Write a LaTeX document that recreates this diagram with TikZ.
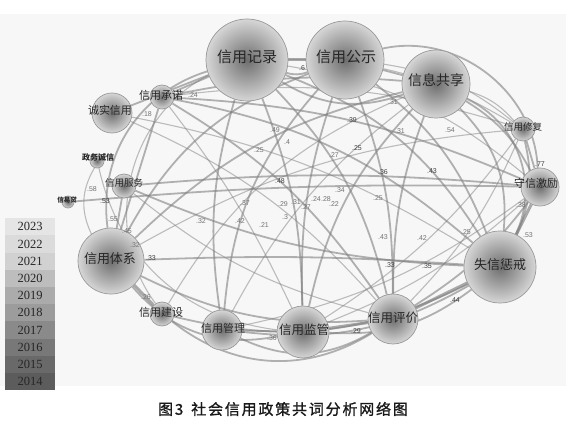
\documentclass[tikz,border=0pt]{standalone}
\usepackage{fontspec}
\setmainfont{Liberation Serif}
\newfontfamily\cjk{Noto Sans CJK SC}
\newfontfamily\capcjk[LetterSpace=12,FakeBold=1.2]{Noto Sans CJK SC}
\newfontfamily\numf{Liberation Sans}
\pgfdeclarelayer{bgl}
\pgfdeclarelayer{edl}
\pgfsetlayers{bgl,edl,main}
\tikzset{
  bub/.style={circle, draw=black!40, line width=0.7pt, inner sep=0pt,
    shading=radial, inner color=black!57, outer color=black!16},
  word/.style={inner sep=0pt, text=black!85},
  ed/.style={draw=black!50, line width=1.8pt, opacity=0.6},
  edt/.style={ed, line width=3pt, opacity=0.65},
  edn/.style={ed, line width=1.1pt, opacity=0.5},
  wt/.style={inner sep=0pt, text=black!55, font=\numf\fontsize{7}{7}\selectfont},
  wtb/.style={wt, text=black!75},
  yr/.style={draw=none, minimum width=50pt, minimum height=17.2pt, inner sep=0pt,
    anchor=north west, font=\fontsize{12.5}{12.5}\selectfont, text=black!85},
}
\newcommand{\fs}[1]{\fontsize{#1}{#1}\selectfont}
\begin{document}
\begin{tikzpicture}[x=1pt,y=-1pt]
\useasboundingbox (0,0) rectangle (582,428);
\begin{pgfonlayer}{bgl}
  \fill[black!3] (0,14) rectangle (566,386);
\end{pgfonlayer}
% bubbles
\node[bub, minimum size=82pt] (rec) at (247,60) {};
\node[bub, minimum size=78pt] (pub) at (345,60) {};
\node[bub, minimum size=68pt] (shr) at (436,84) {};
\node[bub, minimum size=40pt] (cx) at (112,113) {};
\node[bub, minimum size=24pt] (cn) at (162,97) {};
\node[bub, minimum size=14pt] (zw) at (97,161) {};
\node[bub, minimum size=24pt] (fw) at (124,186) {};
\node[bub, minimum size=12pt] (xyd) at (68,202) {};
\node[bub, minimum size=66pt] (tx) at (111,261) {};
\node[bub, minimum size=24pt] (js) at (162,314) {};
\node[bub, minimum size=40pt] (gl) at (222,330) {};
\node[bub, minimum size=52pt] (jg) at (303,332) {};
\node[bub, minimum size=50pt] (pj) at (393,319) {};
\node[bub, minimum size=72pt] (sx) at (500,267) {};
\node[bub, minimum size=38pt] (sxjl) at (540,187) {};
\node[bub, minimum size=24pt] (xf) at (523,129) {};
% words
\node[word, font=\cjk\fs{15}] (rec-t) at (247,57) {信用记录};
\node[word, font=\cjk\fs{15}] (pub-t) at (346,57) {信用公示};
\node[word, font=\cjk\fs{14}] (shr-t) at (436,80) {信息共享};
\node[word, font=\cjk\fs{11}] (cx-t) at (110,110) {诚实信用};
\node[word, font=\cjk\fs{11}] (cn-t) at (161,95) {信用承诺};
\node[word, font=\cjk\bfseries\fs{8}] (zw-t) at (98,157) {政务诚信};
\node[word, font=\cjk\fs{9.5}] (fw-t) at (124,183) {信用服务};
\node[word, font=\cjk\bfseries\fs{6.5}] (xyd-t) at (67,200) {信易贷};
\node[word, font=\cjk\fs{13}] (tx-t) at (110,259) {信用体系};
\node[word, font=\cjk\fs{11}] (js-t) at (161,312) {信用建设};
\node[word, font=\cjk\fs{11}] (gl-t) at (223,328) {信用管理};
\node[word, font=\cjk\fs{12.5}] (jg-t) at (304,330) {信用监管};
\node[word, font=\cjk\fs{12.5}] (pj-t) at (393,318) {信用评价};
\node[word, font=\cjk\fs{13}] (sx-t) at (500,265) {失信惩戒};
\node[word, font=\cjk\fs{11}] (sxjl-t) at (536,183) {守信激励};
\node[word, font=\cjk\fs{9.5}] (xf-t) at (523,127) {信用修复};
% edges
\begin{pgfonlayer}{edl}
\draw[edt] (rec) -- (pub);
\draw[ed] (rec) to[bend right=18] (pub);
\draw[ed] (rec) to[bend right=25] (shr);
\draw[ed] (pub) -- (shr);
\draw[ed] (rec) to[bend right=40] (tx);
\draw[edn] (rec) to[bend right=50] (js);
\draw[ed] (cx) -- (rec);
\draw[ed] (cn) -- (rec);
\draw[ed] (cn) to[bend left=8] (shr);
\draw[edn] (cn) to[bend left=12] (xf);
\draw[ed] (cn) to[bend left=10] (sxjl);
\draw[ed] (cn) to[bend left=15] (sx);
\draw[ed] (cn) to[bend left=12] (pj);
\draw[edn] (cn) to[bend left=6] (jg);
\draw[edn] (cx) to[bend left=10] (sx);
\draw[edn] (cx) to[bend left=12] (pj);
\draw[ed] (rec) to[bend left=10] (jg);
\draw[ed] (rec) to[bend left=15] (pj);
\draw[ed] (rec) to[bend right=12] (gl);
\draw[ed] (rec) to[bend left=18] (sx);
\draw[edn] (rec) to[bend left=15] (sxjl);
\draw[edn] (rec) to[bend left=15] (xf);
\draw[ed] (pub) to[bend right=10] (jg);
\draw[ed] (pub) to[bend left=10] (pj);
\draw[ed] (pub) to[bend right=18] (gl);
\draw[ed] (pub) to[bend left=15] (sx);
\draw[ed] (pub) to[bend right=20] (tx);
\draw[edn] (pub) to[bend left=15] (xf);
\draw[ed] (pub) to[bend left=50] (sxjl);
\draw[ed] (shr) to[bend left=25] (sx);
\draw[ed] (shr) to[bend left=45] (sx);
\draw[ed] (shr) to[bend right=10] (pj);
\draw[ed] (shr) to[bend right=15] (jg);
\draw[ed] (shr) to[bend right=15] (tx);
\draw[edn] (shr) to[bend right=12] (gl);
\draw[edn] (shr) to[bend right=18] (js);
\draw[ed] (shr) to[bend left=15] (sxjl);
\draw[edn] (shr) to[bend left=15] (xf);
\draw[ed] (fw) to[bend left=5] (sxjl);
\draw[ed] (fw) to[bend right=10] (sx);
\draw[edn] (fw) to[bend right=12] (pj);
\draw[ed] (fw) -- (tx);
\draw[ed] (xyd) to[bend left=3] (sxjl);
\draw[edn] (zw) to[bend right=28] (tx);
\draw[edn] (zw) to[bend right=35] (jg);
\draw[ed] (tx) to[bend left=3] (sx);
\draw[edt] (tx) -- (js);
\draw[ed] (tx) -- (cn);
\draw[ed] (tx) to[bend right=15] (pj);
\draw[ed] (tx) to[bend right=30] (jg);
\draw[edn] (tx) to[bend left=12] (xf);
\draw[ed] (js) to[bend right=20] (sx);
\draw[ed] (js) to[bend right=35] (pj);
\draw[ed] (gl) -- (jg);
\draw[ed] (gl) to[bend right=28] (pj);
\draw[ed] (gl) to[bend right=18] (sx);
\draw[edn] (gl) to[bend right=12] (sxjl);
\draw[edt] (jg) -- (pj);
\draw[ed] (jg) to[bend right=20] (sx);
\draw[edn] (jg) to[bend right=10] (sxjl);
\draw[edn] (jg) to[bend right=10] (xf);
\draw[edt] (pj) -- (sx);
\draw[ed] (pj) to[bend right=10] (sxjl);
\draw[edn] (pj) to[bend right=10] (xf);
\draw[edt] (sx) -- (sxjl);
\draw[ed] (sx) to[bend right=18] (xf);
\draw[ed] (sxjl) -- (xf);
\end{pgfonlayer}
% weights
\node[wt] (w1) at (147,114) {.18};
\node[wt] (w2) at (193,95) {.24};
\node[wtb] (w3) at (302,68) {.6};
\node[wt] (w4) at (275,130) {.49};
\node[wt] (w5) at (287,142) {.4};
\node[wt] (w6) at (259,150) {.25};
\node[wtb] (w7) at (352,120) {.39};
\node[wtb] (w8) at (357,148) {.25};
\node[wt] (w9) at (334,155) {.27};
\node[wt] (w10) at (393,102) {.31};
\node[wt] (w11) at (400,131) {.31};
\node[wt] (w12) at (450,130) {.54};
\node[wtb] (w13) at (383,172) {.36};
\node[wtb] (w14) at (432,171) {.43};
\node[wtb] (w15) at (280,181) {.48};
\node[wt] (w16) at (340,190) {.34};
\node[wt] (w17) at (378,198) {.25};
\node[wt] (w18) at (245,203) {.37};
\node[wt] (w19) at (283,204) {.29};
\node[wt] (w20) at (296,202) {.31};
\node[wt] (w21) at (306,207) {.27};
\node[wt] (w22) at (316,199) {.24};
\node[wt] (w23) at (326,199) {.28};
\node[wt] (w24) at (334,204) {.22};
\node[wt] (w25) at (285,217) {.3};
\node[wt] (w26) at (201,221) {.32};
\node[wt] (w27) at (240,221) {.42};
\node[wt] (w28) at (264,225) {.21};
\node[wt] (w29) at (383,237) {.43};
\node[wt] (w30) at (422,238) {.42};
\node[wt] (w31) at (466,232) {.25};
\node[wtb] (w32) at (390,265) {.33};
\node[wtb] (w33) at (427,266) {.35};
\node[wtb] (w34) at (455,300) {.44};
\node[wt] (w35) at (528,235) {.53};
\node[wt] (w36) at (521,205) {.38};
\node[wtb] (w37) at (540,164) {.77};
\node[wt] (w38) at (146,297) {.26};
\node[wtb] (w39) at (151,258) {.33};
\node[wt] (w40) at (135,245) {.32};
\node[wt] (w41) at (127,231) {.45};
\node[wt] (w42) at (113,219) {.55};
\node[wt] (w43) at (92,189) {.58};
\node[wtb] (w44) at (105,201) {.53};
\node[wt] (w45) at (272,338) {.36};
\node[wtb] (w46) at (356,331) {.29};
% legend
\foreach \y/\c [count=\i] in {2023/90,2022/86,2021/82,2020/74,2019/67,2018/61,2017/54,2016/47,2015/41,2014/36}{
  \node[yr, fill=black!\the\numexpr 100-\c\relax] (yr\i) at (5,{218+(\i-1)*17.2}) {\y};
}
% caption
\node[inner sep=0pt, font=\capcjk\fs{15}, text=black!90] (cap) at (283,409) {图3\hspace{8pt}社会信用政策共词分析网络图};
\end{tikzpicture}
\end{document}
